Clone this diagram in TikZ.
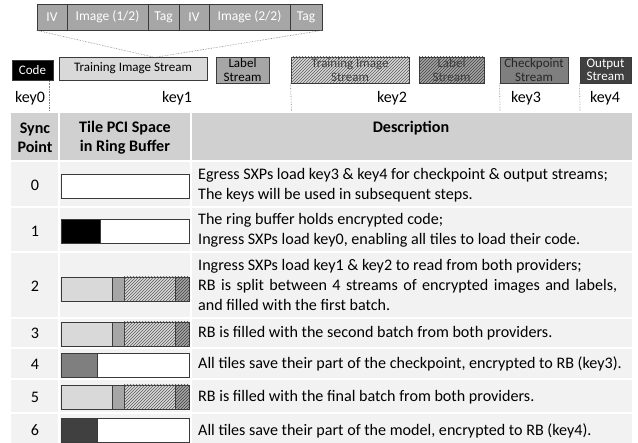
\documentclass[tikz,border=0pt]{standalone}
\usepackage{fontspec}
\setmainfont{Carlito}
\usetikzlibrary{patterns}
\definecolor{lg}{HTML}{D9D9D9}
\definecolor{mg}{HTML}{A6A6A6}
\definecolor{dg}{HTML}{7F7F7F}
\definecolor{vdg}{HTML}{404040}
\definecolor{hdr}{HTML}{D0D0D0}
\definecolor{rowc}{HTML}{F2F2F2}
\definecolor{edge}{HTML}{3A3A3A}
\definecolor{hatchc}{HTML}{5A5A5A}
\newcommand\fullbar[1]{%
  \draw[barl, fill=lg] (61,{#1-12}) rectangle (112,{#1+12});
  \draw[barl, fill=mg] (112,{#1-12}) rectangle (124,{#1+12});
  \draw[barl, fill=lg, postaction={pattern=north east lines, pattern color=hatchc}] (124,{#1-12}) rectangle (175,{#1+12});
  \draw[barl, fill=mg, postaction={pattern=north east lines, pattern color=vdg}] (175,{#1-12}) rectangle (189,{#1+12});
}
\newcommand\partbar[3]{%
  \draw[barl, fill=white] (61,{#1-12}) rectangle (189,{#1+12});
  \draw[barl, fill=#3] (61,{#1-12}) rectangle (#2,{#1+12});
}
\begin{document}
\begin{tikzpicture}[x=1pt,y=-1pt,
  seg/.style={draw=edge, line width=0.7pt, inner sep=0pt, minimum height=26pt, fill=mg, text=white, font=\fontsize{13.5}{15}\selectfont},
  strm/.style={draw=edge, line width=0.8pt, inner sep=0pt, align=center, font=\fontsize{13}{13.5}\selectfont},
  hatchl/.style={postaction={pattern=north east lines, pattern color=hatchc}},
  hatchd/.style={postaction={pattern=north east lines, pattern color=vdg}},
  keylab/.style={inner sep=0pt, font=\fontsize{16}{18}\selectfont},
  sepline/.style={draw=gray, densely dotted, line width=0.6pt},
  convline/.style={draw=gray, densely dotted, line width=0.6pt},
  barl/.style={draw=edge, line width=0.8pt},
  desc/.style={anchor=west, align=left, inner sep=0pt, font=\fontsize{16.1}{20}\selectfont},
  num/.style={inner sep=0pt, font=\fontsize{16.1}{20}\selectfont},
  hd/.style={inner sep=0pt, align=center, font=\fontsize{16.1}{19}\selectfont\bfseries},
  grid/.style={draw=white, line width=1.6pt}
]
\useasboundingbox (0,0) rectangle (638,443);
% ---- top packet bar
\node[seg, minimum width=30pt] (iv1) at (52,17) {IV};
\node[seg, minimum width=81pt] (im1) at (107.5,17) {Image (1/2)};
\node[seg, minimum width=31pt] (tg1) at (163.5,17) {Tag};
\node[seg, minimum width=30pt] (iv2) at (194,17) {IV};
\node[seg, minimum width=81pt] (im2) at (249.5,17) {Image (2/2)};
\node[seg, minimum width=32pt] (tg2) at (306,17) {Tag};
% ---- streams
\node[strm, fill=black, text=white, minimum width=41pt, minimum height=20pt] (code) at (32.5,70) {Code};
\node[strm, fill=lg, minimum width=148pt, minimum height=23pt] (tis) at (133,68.5) {Training Image Stream};
\node[strm, fill=mg, minimum width=53pt, minimum height=26pt] (ls) at (242.5,70) {Label\\Stream};
\node[strm, fill=lg, hatchl, text=black!75, minimum width=118pt, minimum height=26pt] (tis2) at (350,70) {Training Image\\Stream};
\node[strm, fill=mg, hatchd, text=black!75, minimum width=65pt, minimum height=26pt] (ls2) at (451.5,70) {Label\\Stream};
\node[strm, fill=dg, text=black!85, minimum width=68pt, minimum height=26pt] (ck) at (534,70) {Checkpoint\\Stream};
\node[strm, fill=vdg, text=white, minimum width=51pt, minimum height=26pt] (out) at (605.5,70) {Output\\Stream};
% convergence lines
\coordinate (cv1) at (153,57);
\coordinate (cv2) at (157,57);
\draw[convline] (iv1.south west) -- (cv1);
\draw[convline] (tg2.south east) -- (cv2);
% key labels
\node[keylab] (k0) at (30,98) {key0};
\node[keylab] (k1) at (177,98) {key1};
\node[keylab] (k2) at (392,98) {key2};
\node[keylab] (k3) at (526,98) {key3};
\node[keylab] (k4) at (605,98) {key4};
% separators
\coordinate (s0a) at (49,81); \coordinate (s0b) at (49,111);
\coordinate (s1b) at (291.5,111);
\coordinate (s2b) at (500,111);
\coordinate (s3b) at (580,111);
\draw[sepline] (s0a) -- (s0b);
\draw[sepline] (tis2.south west) -- (s1b);
\draw[sepline] (ck.south west) -- (s2b);
\draw[sepline] (out.south west) -- (s3b);
% ---- table
\fill[hdr] (11,113) rectangle (632,161);
\fill[rowc] (11,161) rectangle (632,446);
\foreach \yy in {161,207,252,318,348,379,413} \draw[grid] (11,\yy) -- (632,\yy);
\foreach \xx in {59,191} \draw[grid] (\xx,113) -- (\xx,446);
\node[hd] (h1) at (35,137.5) {Sync\\Point};
\node[hd] (h2) at (125,137.5) {Tile PCI Space\\in Ring Buffer};
\node[hd] (h3) at (411,128) {Description};
% rows
\node[num] (n0) at (35,185) {0};
\node[num] (n1) at (35,231) {1};
\node[num] (n2) at (35,286) {2};
\node[num] (n3) at (35,333) {3};
\node[num] (n4) at (35,364) {4};
\node[num] (n5) at (35,397) {5};
\node[num] (n6) at (35,430.5) {6};
% bars
\partbar{186.5}{189}{white}
\partbar{231}{100}{black}
\fullbar{289}
\fullbar{334}
\partbar{365}{97}{dg}
\fullbar{397}
\partbar{430}{97}{vdg}
% descriptions
\node[desc] (d0) at (198,185) {Egress SXPs load key3 \& key4 for checkpoint \& output streams;\\The keys will be used in subsequent steps.};
\node[desc] (d1) at (198,230.5) {The ring buffer holds encrypted code;\\Ingress SXPs load key0, enabling all tiles to load their code.};
\node[desc, align=justify, text width=419pt] (d2) at (198,285) {Ingress SXPs load key1 \& key2 to read from both providers;\\RB is split between 4 streams of encrypted images and labels,\linebreak and filled with the first batch.};
\node[desc] (d3) at (198,333) {RB is filled with the second batch from both providers.};
\node[desc] (d4) at (198,364) {All tiles save their part of the checkpoint, encrypted to RB (key3).};
\node[desc] (d5) at (198,397) {RB is filled with the final batch from both providers.};
\node[desc] (d6) at (198,430.5) {All tiles save their part of the model, encrypted to RB (key4).};
\end{tikzpicture}
\end{document}
